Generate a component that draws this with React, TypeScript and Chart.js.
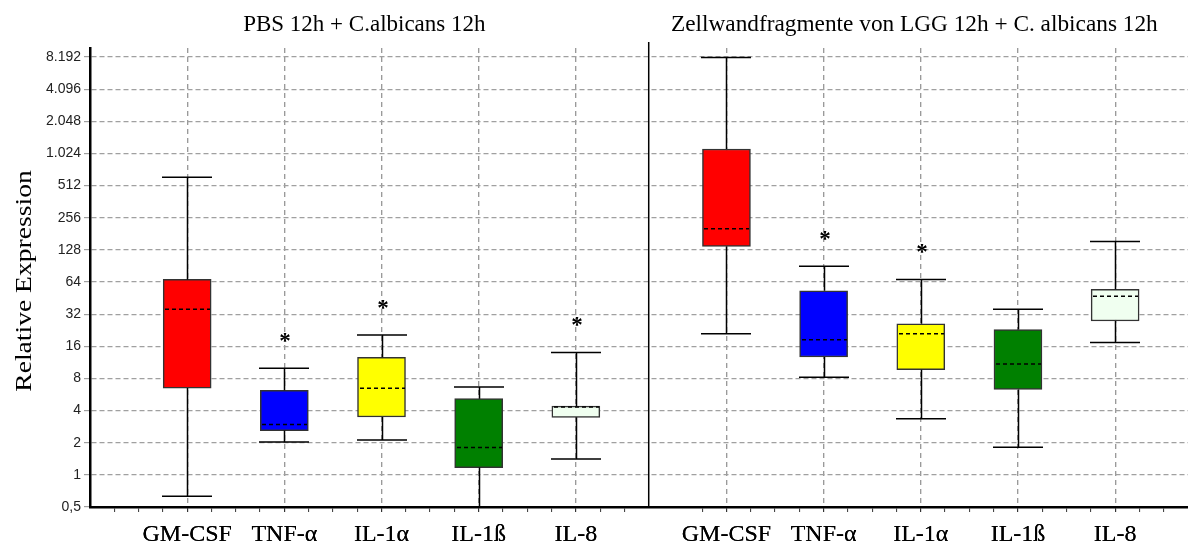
import React, { useEffect, useRef } from 'react';
import { Chart, registerables } from 'chart.js';

Chart.register(...registerables);

// Cytokines shown in each panel (same order in both)
const cytokines = ['GM-CSF', 'TNF-α', 'IL-1α', 'IL-1ß', 'IL-8'];
const boxColors = ['#ff0000', '#0000ff', '#ffff00', '#008000', '#f0fff0'];

const panelTitles = ['PBS 12h + C.albicans 12h', 'Zellwandfragmente von LGG 12h + C. albicans 12h'];

// PBS 12h + C. albicans 12h — box plot statistics (relative expression)
const pbsMin = [0.63, 2.03, 2.12, 0.45, 1.41];
const pbsQ1 = [6.5, 2.6, 3.48, 1.17, 3.46];
const pbsMedian = [35.5, 2.97, 6.46, 1.8, 4.32];
const pbsQ3 = [67.7, 6.2, 12.6, 5.17, 4.4];
const pbsMax = [613, 9.96, 20.4, 6.65, 14.0];
const pbsSignificant = [false, true, true, false, true];

// Zellwandfragmente von LGG 12h + C. albicans 12h
const lggMin = [21, 8.2, 3.36, 1.81, 17.4];
const lggQ1 = [138, 12.7, 9.66, 6.3, 27.6];
const lggMedian = [202, 18.4, 21, 10.9, 47];
const lggQ3 = [1128, 53, 26, 23, 54.6];
const lggMax = [8100, 90, 67.7, 35.5, 153];
const lggSignificant = [false, true, true, false, false];

// Log2 axis ticks
const yTickValues = [0.5, 1, 2, 4, 8, 16, 32, 64, 128, 256, 512, 1024, 2048, 4096, 8192];

// Horizontal layout in axis units (one unit per minor tick)
const SLOT = 4;
const PANEL_STARTS = [4, 26.2];
const SEPARATOR = 23;
const X_MAX = 45.2;

const panels = [
  { title: panelTitles[0], min: pbsMin, q1: pbsQ1, median: pbsMedian, q3: pbsQ3, max: pbsMax, sig: pbsSignificant },
  { title: panelTitles[1], min: lggMin, q1: lggQ1, median: lggMedian, q3: lggQ3, max: lggMax, sig: lggSignificant },
];

const slotX = (p: number, i: number) => PANEL_STARTS[p] + i * SLOT;

const categoryAt = (v: number): string | null => {
  for (let p = 0; p < panels.length; p++) {
    for (let i = 0; i < cytokines.length; i++) {
      if (Math.abs(slotX(p, i) - v) < 1e-6) return cytokines[i];
    }
  }
  return null;
};

const xTickValues: number[] = (() => {
  const t: number[] = [];
  for (let v = 1; v <= 22; v++) t.push(v);
  for (let v = 25.2; v < X_MAX - 0.5; v += 1) t.push(Math.round(v * 10) / 10);
  return t;
})();

const formatDe = (v: number): string => {
  if (v < 1) return String(v).replace('.', ',');
  return String(Math.round(v)).replace(/\B(?=(\d{3})+(?!\d))/g, '.');
};

const SERIF = '"Liberation Serif", "Times New Roman", serif';
const SANS = '"Liberation Sans", Arial, sans-serif';

const boxPlotPlugin = {
  id: 'boxPlotExtras',
  beforeDatasetsDraw(chart: any) {
    const { ctx, chartArea, scales } = chart;
    const xs = scales.x.getPixelForValue(SEPARATOR);
    ctx.save();
    ctx.strokeStyle = '#000';
    ctx.lineWidth = 1.5;
    ctx.beginPath();
    ctx.moveTo(xs, chartArea.top - 6);
    ctx.lineTo(xs, chartArea.bottom);
    ctx.stroke();
    ctx.restore();
  },
  afterDatasetsDraw(chart: any) {
    const { ctx, chartArea, scales } = chart;
    const x = scales.x;
    const y = scales.y;
    ctx.save();
    ctx.beginPath();
    ctx.rect(chartArea.left, chartArea.top - 40, chartArea.right - chartArea.left, chartArea.bottom - chartArea.top + 40);
    ctx.clip();
    panels.forEach((p, pi) => {
      cytokines.forEach((_, i) => {
        const cx = Math.round(x.getPixelForValue(slotX(pi, i)));
        const half = 25;
        const bHalf = 24;
        const yMin = y.getPixelForValue(p.min[i]);
        const yQ1 = y.getPixelForValue(p.q1[i]);
        const yMed = y.getPixelForValue(p.median[i]);
        const yQ3 = y.getPixelForValue(p.q3[i]);
        const yMax = y.getPixelForValue(p.max[i]);
        ctx.strokeStyle = '#000';
        ctx.lineWidth = 1.5;
        ctx.setLineDash([]);
        ctx.beginPath();
        ctx.moveTo(cx + 0.5, yQ3);
        ctx.lineTo(cx + 0.5, yMax);
        ctx.moveTo(cx - half, yMax);
        ctx.lineTo(cx + half, yMax);
        ctx.moveTo(cx + 0.5, yQ1);
        ctx.lineTo(cx + 0.5, yMin);
        ctx.moveTo(cx - half, yMin);
        ctx.lineTo(cx + half, yMin);
        ctx.stroke();
        // median
        ctx.setLineDash([4, 3]);
        ctx.lineWidth = 1.5;
        ctx.beginPath();
        ctx.moveTo(cx - bHalf + 2, yMed);
        ctx.lineTo(cx + bHalf - 1, yMed);
        ctx.stroke();
        ctx.setLineDash([]);
        if (p.sig[i]) {
          ctx.fillStyle = '#000';
          ctx.font = `bold 23px ${SERIF}`;
          ctx.textAlign = 'center';
          ctx.textBaseline = 'alphabetic';
          ctx.fillText('*', cx + 1, yMax - 29 + 9);
        }
      });
    });
    ctx.restore();
  },
  afterDraw(chart: any) {
    const { ctx, chartArea, scales } = chart;
    const xs = scales.x.getPixelForValue(SEPARATOR);
    ctx.save();
    ctx.fillStyle = '#000';
    ctx.font = `23px ${SERIF}`;
    ctx.textAlign = 'center';
    ctx.textBaseline = 'alphabetic';
    ctx.fillText(panels[0].title, (chartArea.left + xs) / 2 - 5, 31);
    ctx.save();
    ctx.font = `23.3px ${SERIF}`;
    ctx.fillText(panels[1].title, (xs + chartArea.right) / 2 - 4, 31);
    ctx.restore();
    // y axis title
    ctx.translate(25, 281);
    ctx.rotate(-Math.PI / 2);
    ctx.scale(1.2, 1);
    ctx.textBaseline = 'middle';
    ctx.fillText('Relative Expression', 0, 0);
    ctx.restore();
  },
};

export default function App() {
  const canvasRef = useRef<HTMLCanvasElement | null>(null);

  useEffect(() => {
    document.body.style.margin = '0';
    const canvas = canvasRef.current;
    if (!canvas) return;
    const chart = new Chart(canvas, {
      type: 'bar',
      data: {
        datasets: panels.map((p, pi) => ({
          data: cytokines.map((_, i) => ({ x: slotX(pi, i), y: [p.q1[i], p.q3[i]] })),
          backgroundColor: boxColors,
          borderColor: '#333333',
          borderWidth: 1.5,
          borderSkipped: false,
          barThickness: 48,
          grouped: false,
        })),
      } as any,
      options: {
        responsive: false,
        animation: false,
        devicePixelRatio: 1,
        layout: { padding: { top: 48, left: 0, right: 0, bottom: 0 } },
        plugins: { legend: { display: false }, tooltip: { enabled: false }, title: { display: false } },
        scales: {
          x: {
            type: 'linear',
            min: 0,
            max: X_MAX,
            offset: false,
            afterBuildTicks: (s: any) => {
              s.ticks = xTickValues
                .map((v) => ({ value: v }))
                .concat(panels.flatMap((_, pi) => cytokines.map((__, i) => ({ value: slotX(pi, i) }))))
                .sort((a, b) => a.value - b.value);
            },
            afterFit: (s: any) => {
              s.height = 41;
            },
            ticks: {
              autoSkip: false,
              maxRotation: 0,
              color: '#000',
              font: { family: SERIF, size: 24 },
              padding: 8,
              callback: (v: any) => categoryAt(Number(v)) ?? '',
            },
            grid: {
              offset: false,
              color: (c: any) => (c.tick && categoryAt(c.tick.value) ? '#9a9a9a' : 'rgba(0,0,0,0)'),
              lineWidth: 1.2,
              tickColor: '#333',
              tickLength: 5,
              tickWidth: 1,
            },
            border: { color: '#000', width: 2.5, dash: [5, 4] },
          },
          y: {
            type: 'logarithmic',
            min: 0.5,
            max: 9950,
            afterBuildTicks: (s: any) => {
              s.ticks = yTickValues.map((v) => ({ value: v }));
            },
            afterFit: (s: any) => {
              s.width = 90;
            },
            ticks: {
              autoSkip: false,
              color: '#222',
              font: { family: SANS, size: 14 },
              padding: 3,
              callback: (v: any) => formatDe(Number(v)),
            },
            grid: {
              color: '#a0a0a0',
              lineWidth: 1.2,
              tickLength: 6,
            },
            border: { color: '#000', width: 2.5, dash: [5, 3] },
          },
        },
      } as any,
      plugins: [boxPlotPlugin],
    });
    return () => chart.destroy();
  }, []);

  return (
    <div style={{ position: 'absolute', left: 0, top: 0, width: 1188, height: 548, background: '#fff' }}>
      <canvas ref={canvasRef} width={1188} height={548} style={{ display: 'block', width: 1188, height: 548 }} />
    </div>
  );
}
